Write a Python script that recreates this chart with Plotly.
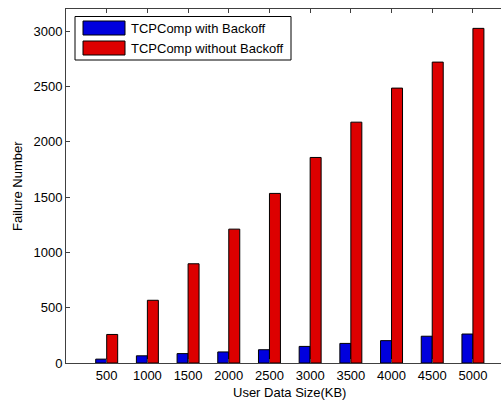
import plotly.graph_objects as go

# Data: failure counts per user data size
sizes = ["500", "1000", "1500", "2000", "2500", "3000", "3500", "4000", "4500", "5000"]
with_backoff = [35, 65, 85, 100, 120, 150, 177, 202, 242, 262]
without_backoff = [258, 567, 897, 1210, 1533, 1858, 2177, 2485, 2720, 3025]
series_names = ["TCPComp with Backoff", "TCPComp without Backoff"]
series_colors = ["#0000DD", "#DD0000"]

W, H = 501, 401
L, R, T, B = 66, 0, 9, 38
pw, ph = W - L - R, H - T - B


def px_x(p):
    return (p - L) / pw


def px_y(p):
    return (H - B - p) / ph


FONT = "Liberation Sans, Arial, sans-serif"

fig = go.Figure()
for name, vals, col in zip(series_names, [with_backoff, without_backoff], series_colors):
    fig.add_trace(go.Bar(
        x=sizes, y=vals, name=name,
        marker=dict(color=col, line=dict(color="black", width=1)),
        showlegend=False,
    ))

# Boxed legend with wide swatches
shapes = [dict(type="rect", xref="paper", yref="paper",
               x0=px_x(75), x1=px_x(291), y0=px_y(60), y1=px_y(16.5),
               line=dict(color="black", width=1), fillcolor="white", layer="above")]
annotations = []
for i, (name, col) in enumerate(zip(series_names, series_colors)):
    cy = 28 + 20 * i
    shapes.append(dict(type="rect", xref="paper", yref="paper",
                       x0=px_x(83), x1=px_x(125), y0=px_y(cy + 7), y1=px_y(cy - 7),
                       line=dict(color="black", width=1), fillcolor=col, layer="above"))
    annotations.append(dict(xref="paper", yref="paper", x=px_x(129), y=px_y(cy),
                            text=name, showarrow=False, xanchor="left", yanchor="middle",
                            font=dict(family=FONT, size=13, color="black")))

# Axis titles
annotations.append(dict(xref="x", yref="paper", x=4.5, y=px_y(392),
                        text="User Data Size(KB)", showarrow=False,
                        xanchor="center", yanchor="middle",
                        font=dict(family=FONT, size=13, color="black")))
annotations.append(dict(xref="paper", yref="paper", x=px_x(17), y=0.5,
                        text="Failure Number", showarrow=False, textangle=-90,
                        xanchor="center", yanchor="middle",
                        font=dict(family=FONT, size=13, color="black")))

fig.update_layout(
    width=W, height=H,
    margin=dict(l=L, r=R, t=T, b=B, pad=0),
    paper_bgcolor="white", plot_bgcolor="white",
    barmode="group", bargap=0.46, bargroupgap=0,
    font=dict(family=FONT, size=13, color="black"),
    shapes=shapes, annotations=annotations,
    showlegend=False,
)
fig.update_xaxes(
    type="category", range=[-1, 9.69],
    showline=True, linecolor="#404040", linewidth=1, mirror="ticks",
    ticks="inside", ticklen=4, tickcolor="#404040",
    showgrid=False, zeroline=False,
)
fig.update_yaxes(
    range=[0, 3200], tick0=0, dtick=500,
    showline=True, linecolor="#404040", linewidth=1, mirror=False,
    ticks="inside", ticklen=4, tickcolor="#404040",
    showgrid=False, zeroline=False,
)

fig.write_html("out.html")
